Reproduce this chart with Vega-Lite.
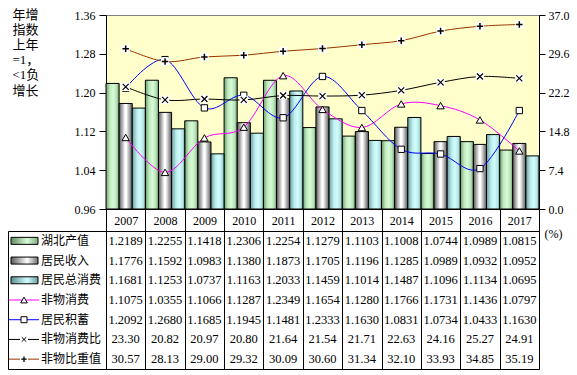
{
  "$schema": "https://vega.github.io/schema/vega-lite/v6.json",
  "padding": {"left": 7, "top": 7, "right": 5, "bottom": 4},
  "background": "white",
  "config": {
    "font": "Liberation Serif",
    "axis": {"labelFont": "Liberation Serif", "labelFontSize": 12, "labelColor": "black"}
  },
  "datasets": {
    "main": [
      {"year": "2007", "series": "湖北产值", "value": 1.2189},
      {"year": "2007", "series": "居民收入", "value": 1.1776},
      {"year": "2007", "series": "居民总消费", "value": 1.1681},
      {"year": "2007", "series": "非物消费", "value": 1.1075},
      {"year": "2007", "series": "居民积蓄", "value": 1.2092},
      {"year": "2007", "series": "非物消费比", "value": 23.30},
      {"year": "2007", "series": "非物比重值", "value": 30.57},
      {"year": "2008", "series": "湖北产值", "value": 1.2255},
      {"year": "2008", "series": "居民收入", "value": 1.1592},
      {"year": "2008", "series": "居民总消费", "value": 1.1253},
      {"year": "2008", "series": "非物消费", "value": 1.0355},
      {"year": "2008", "series": "居民积蓄", "value": 1.2680},
      {"year": "2008", "series": "非物消费比", "value": 20.82},
      {"year": "2008", "series": "非物比重值", "value": 28.13},
      {"year": "2009", "series": "湖北产值", "value": 1.1418},
      {"year": "2009", "series": "居民收入", "value": 1.0983},
      {"year": "2009", "series": "居民总消费", "value": 1.0737},
      {"year": "2009", "series": "非物消费", "value": 1.1066},
      {"year": "2009", "series": "居民积蓄", "value": 1.1685},
      {"year": "2009", "series": "非物消费比", "value": 20.97},
      {"year": "2009", "series": "非物比重值", "value": 29.00},
      {"year": "2010", "series": "湖北产值", "value": 1.2306},
      {"year": "2010", "series": "居民收入", "value": 1.1380},
      {"year": "2010", "series": "居民总消费", "value": 1.1163},
      {"year": "2010", "series": "非物消费", "value": 1.1287},
      {"year": "2010", "series": "居民积蓄", "value": 1.1945},
      {"year": "2010", "series": "非物消费比", "value": 20.80},
      {"year": "2010", "series": "非物比重值", "value": 29.32},
      {"year": "2011", "series": "湖北产值", "value": 1.2254},
      {"year": "2011", "series": "居民收入", "value": 1.1873},
      {"year": "2011", "series": "居民总消费", "value": 1.2033},
      {"year": "2011", "series": "非物消费", "value": 1.2349},
      {"year": "2011", "series": "居民积蓄", "value": 1.1481},
      {"year": "2011", "series": "非物消费比", "value": 21.64},
      {"year": "2011", "series": "非物比重值", "value": 30.09},
      {"year": "2012", "series": "湖北产值", "value": 1.1279},
      {"year": "2012", "series": "居民收入", "value": 1.1705},
      {"year": "2012", "series": "居民总消费", "value": 1.1459},
      {"year": "2012", "series": "非物消费", "value": 1.1654},
      {"year": "2012", "series": "居民积蓄", "value": 1.2333},
      {"year": "2012", "series": "非物消费比", "value": 21.54},
      {"year": "2012", "series": "非物比重值", "value": 30.60},
      {"year": "2013", "series": "湖北产值", "value": 1.1103},
      {"year": "2013", "series": "居民收入", "value": 1.1196},
      {"year": "2013", "series": "居民总消费", "value": 1.1014},
      {"year": "2013", "series": "非物消费", "value": 1.1280},
      {"year": "2013", "series": "居民积蓄", "value": 1.1630},
      {"year": "2013", "series": "非物消费比", "value": 21.71},
      {"year": "2013", "series": "非物比重值", "value": 31.34},
      {"year": "2014", "series": "湖北产值", "value": 1.1008},
      {"year": "2014", "series": "居民收入", "value": 1.1285},
      {"year": "2014", "series": "居民总消费", "value": 1.1487},
      {"year": "2014", "series": "非物消费", "value": 1.1766},
      {"year": "2014", "series": "居民积蓄", "value": 1.0831},
      {"year": "2014", "series": "非物消费比", "value": 22.63},
      {"year": "2014", "series": "非物比重值", "value": 32.10},
      {"year": "2015", "series": "湖北产值", "value": 1.0744},
      {"year": "2015", "series": "居民收入", "value": 1.0989},
      {"year": "2015", "series": "居民总消费", "value": 1.1096},
      {"year": "2015", "series": "非物消费", "value": 1.1731},
      {"year": "2015", "series": "居民积蓄", "value": 1.0734},
      {"year": "2015", "series": "非物消费比", "value": 24.16},
      {"year": "2015", "series": "非物比重值", "value": 33.93},
      {"year": "2016", "series": "湖北产值", "value": 1.0989},
      {"year": "2016", "series": "居民收入", "value": 1.0932},
      {"year": "2016", "series": "居民总消费", "value": 1.1134},
      {"year": "2016", "series": "非物消费", "value": 1.1436},
      {"year": "2016", "series": "居民积蓄", "value": 1.0433},
      {"year": "2016", "series": "非物消费比", "value": 25.27},
      {"year": "2016", "series": "非物比重值", "value": 34.85},
      {"year": "2017", "series": "湖北产值", "value": 1.0815},
      {"year": "2017", "series": "居民收入", "value": 1.0952},
      {"year": "2017", "series": "居民总消费", "value": 1.0695},
      {"year": "2017", "series": "非物消费", "value": 1.0797},
      {"year": "2017", "series": "居民积蓄", "value": 1.1630},
      {"year": "2017", "series": "非物消费比", "value": 24.91},
      {"year": "2017", "series": "非物比重值", "value": 35.19}
    ]
  },
  "columns": 2,
  "bounds": "flush",
  "spacing": {"row": 22, "column": 0},
  "concat": [
    {
      "width": 98,
      "height": 194,
      "data": {"values": [{}]},
      "mark": {"type": "point", "opacity": 0},
      "view": {"stroke": null}
    },
    {
      "width": 433,
      "height": 194,
      "data": {"name": "main"},
      "view": {"fill": "#FFFFCC", "stroke": "#808080"},
      "layer": [
        {
          "encoding": {
            "x": {
              "field": "year", "type": "nominal",
              "scale": {"type": "band", "paddingInner": 0, "paddingOuter": 0},
              "axis": {"title": null, "tickBand": "extent", "tickSize": 22, "tickColor": "black", "domainColor": "black", "labelPadding": -11, "labelBaseline": "middle", "labelAngle": 0, "labelFontSize": 12}
            },
            "y": {
              "field": "value", "type": "quantitative",
              "scale": {"domain": [0.96, 1.36], "nice": false, "zero": false},
              "axis": {
                "orient": "left", "values": [0.96, 1.04, 1.12, 1.2, 1.28, 1.36], "format": ".2f",
                "tickSize": 7, "tickColor": "black", "domainColor": "black", "labelPadding": 4, "grid": false,
                "title": ["年增", "指数", "上年", "=1，", "<1负", "增长"],
                "titleAngle": 0, "titleAlign": "left", "titleBaseline": "top", "titleX": -94, "titleY": -7,
                "titleFont": "Liberation Serif, Noto Sans CJK SC", "titleFontSize": 13, "titleFontWeight": "normal",
                "titleLineHeight": 15.2, "titleColor": "black"
              }
            }
          },
          "layer": [
            {
              "transform": [{"filter": "datum.series == '湖北产值'"}],
              "mark": {"type": "bar", "stroke": "black", "strokeWidth": 1,
                "fill": {"gradient": "linear", "x1": 0, "y1": 0, "x2": 1, "y2": 0,
                  "stops": [{"offset": 0, "color": "#6E9E6E"}, {"offset": 0.3, "color": "#C0ECC0"}, {"offset": 0.55, "color": "#D8FAD8"}, {"offset": 0.8, "color": "#B8E4B8"}, {"offset": 1, "color": "#6E9E6E"}]}},
              "encoding": {
                "xOffset": {"field": "series", "type": "nominal", "scale": {"domain": ["湖北产值", "居民收入", "居民总消费"], "paddingInner": 0, "paddingOuter": 0}},
                "y2": {"datum": 0.96}
              }
            },
            {
              "transform": [{"filter": "datum.series == '居民收入'"}],
              "mark": {"type": "bar", "stroke": "black", "strokeWidth": 1,
                "fill": {"gradient": "linear", "x1": 0, "y1": 0, "x2": 1, "y2": 0,
                  "stops": [{"offset": 0, "color": "#5A5A5A"}, {"offset": 0.45, "color": "#FFFFFF"}, {"offset": 0.55, "color": "#FFFFFF"}, {"offset": 1, "color": "#5A5A5A"}]}},
              "encoding": {
                "xOffset": {"field": "series", "type": "nominal", "scale": {"domain": ["湖北产值", "居民收入", "居民总消费"], "paddingInner": 0, "paddingOuter": 0}},
                "y2": {"datum": 0.96}
              }
            },
            {
              "transform": [{"filter": "datum.series == '居民总消费'"}],
              "mark": {"type": "bar", "stroke": "black", "strokeWidth": 1,
                "fill": {"gradient": "linear", "x1": 0, "y1": 0, "x2": 1, "y2": 0,
                  "stops": [{"offset": 0, "color": "#6AA0A0"}, {"offset": 0.35, "color": "#BDEDED"}, {"offset": 0.6, "color": "#D2FDFD"}, {"offset": 0.85, "color": "#B5E5E5"}, {"offset": 1, "color": "#6AA0A0"}]}},
              "encoding": {
                "xOffset": {"field": "series", "type": "nominal", "scale": {"domain": ["湖北产值", "居民收入", "居民总消费"], "paddingInner": 0, "paddingOuter": 0}},
                "y2": {"datum": 0.96}
              }
            },
            {
              "transform": [{"filter": "datum.series == '非物消费'"}],
              "mark": {"type": "line", "color": "#FF00FF", "strokeWidth": 1, "interpolate": "cardinal"}
            },
            {
              "transform": [{"filter": "datum.series == '非物消费'"}],
              "mark": {"type": "point", "shape": "triangle-up", "filled": true, "fill": "white", "stroke": "black", "strokeWidth": 1, "size": 55, "opacity": 1}
            },
            {
              "transform": [{"filter": "datum.series == '居民积蓄'"}],
              "mark": {"type": "line", "color": "#0000FF", "strokeWidth": 1, "interpolate": "cardinal"}
            },
            {
              "transform": [{"filter": "datum.series == '居民积蓄'"}],
              "mark": {"type": "point", "shape": "square", "filled": true, "fill": "white", "stroke": "black", "strokeWidth": 1, "size": 40, "opacity": 1}
            }
          ]
        },
        {
          "encoding": {
            "x": {
              "field": "year", "type": "nominal",
              "scale": {"type": "band", "paddingInner": 0, "paddingOuter": 0},
              "axis": {"title": null, "tickBand": "extent", "tickSize": 22, "tickColor": "black", "domainColor": "black", "labelPadding": -11, "labelBaseline": "middle", "labelAngle": 0, "labelFontSize": 12}
            },
            "y": {
              "field": "value", "type": "quantitative",
              "scale": {"domain": [0, 37], "nice": false, "zero": false},
              "axis": {
                "orient": "right", "values": [0, 7.4, 14.8, 22.2, 29.6, 37], "format": ".1f",
                "tickSize": 6, "tickColor": "black", "domainColor": "black", "labelPadding": 3, "grid": false,
                "title": "(%)", "titleAngle": 0, "titleAlign": "center", "titleBaseline": "middle", "titleX": 14, "titleY": 218,
                "titleFont": "Liberation Serif", "titleFontSize": 12, "titleFontWeight": "normal", "titleColor": "black"
              }
            }
          },
          "layer": [
            {
              "transform": [{"filter": "datum.series == '非物消费比'"}],
              "mark": {"type": "line", "color": "#000000", "strokeWidth": 1, "interpolate": "cardinal"}
            },
            {
              "transform": [{"filter": "datum.series == '非物消费比'"}],
              "mark": {"type": "point", "shape": "square", "filled": true, "fill": "white", "strokeWidth": 0, "size": 70, "opacity": 1}
            },
            {
              "transform": [{"filter": "datum.series == '非物消费比'"}],
              "mark": {"type": "point", "shape": "M-1,-1L1,1M-1,1L1,-1", "filled": false, "stroke": "black", "strokeWidth": 1.2, "size": 36, "opacity": 1}
            },
            {
              "transform": [{"filter": "datum.series == '非物比重值'"}],
              "mark": {"type": "line", "color": "#993300", "strokeWidth": 1, "interpolate": "cardinal"}
            },
            {
              "transform": [{"filter": "datum.series == '非物比重值'"}],
              "mark": {"type": "point", "shape": "square", "filled": true, "fill": "white", "strokeWidth": 0, "size": 70, "opacity": 1}
            },
            {
              "transform": [{"filter": "datum.series == '非物比重值'"}],
              "mark": {"type": "point", "shape": "M-1,0L1,0M0,-1L0,1", "filled": false, "stroke": "black", "strokeWidth": 1.5, "size": 42, "opacity": 1}
            }
          ]
        }
      ],
      "resolve": {"scale": {"y": "independent"}}
    },
    {
      "width": 98,
      "height": 138,
      "data": {"name": "main"},
      "transform": [{"filter": "datum.year == '2007'"}],
      "view": {"stroke": "black"},
      "encoding": {
        "y": {"field": "series", "type": "nominal",
          "scale": {"type": "band", "domain": ["湖北产值", "居民收入", "居民总消费", "非物消费", "居民积蓄", "非物消费比", "非物比重值"], "paddingInner": 0, "paddingOuter": 0},
          "axis": null}
      },
      "layer": [
        {
          "transform": [{"filter": "datum.series == '湖北产值'"}],
          "mark": {"type": "bar", "height": 7, "stroke": "black", "strokeWidth": 1,
            "fill": {"gradient": "linear", "x1": 0, "y1": 0, "x2": 1, "y2": 0,
              "stops": [{"offset": 0, "color": "#5E8E5E"}, {"offset": 0.6, "color": "#D8FAD8"}, {"offset": 1, "color": "#7FAF7F"}]}},
          "encoding": {
            "x": {"datum": 3, "type": "quantitative", "scale": {"domain": [0, 98], "nice": false, "zero": false}, "axis": null},
            "x2": {"datum": 30}
          }
        },
        {
          "transform": [{"filter": "datum.series == '居民收入'"}],
          "mark": {"type": "bar", "height": 7, "stroke": "black", "strokeWidth": 1,
            "fill": {"gradient": "linear", "x1": 0, "y1": 0, "x2": 1, "y2": 0,
              "stops": [{"offset": 0, "color": "#5A5A5A"}, {"offset": 0.6, "color": "#FFFFFF"}, {"offset": 1, "color": "#707070"}]}},
          "encoding": {
            "x": {"datum": 3, "type": "quantitative", "scale": {"domain": [0, 98], "nice": false, "zero": false}, "axis": null},
            "x2": {"datum": 30}
          }
        },
        {
          "transform": [{"filter": "datum.series == '居民总消费'"}],
          "mark": {"type": "bar", "height": 7, "stroke": "black", "strokeWidth": 1,
            "fill": {"gradient": "linear", "x1": 0, "y1": 0, "x2": 1, "y2": 0,
              "stops": [{"offset": 0, "color": "#5A9090"}, {"offset": 0.6, "color": "#D2FDFD"}, {"offset": 1, "color": "#6AA0A0"}]}},
          "encoding": {
            "x": {"datum": 3, "type": "quantitative", "scale": {"domain": [0, 98], "nice": false, "zero": false}, "axis": null},
            "x2": {"datum": 30}
          }
        },
        {
          "transform": [{"filter": "indexof(['非物消费', '居民积蓄', '非物消费比', '非物比重值'], datum.series) >= 0"}],
          "mark": {"type": "rule", "strokeWidth": 1},
          "encoding": {
            "x": {"datum": 1, "type": "quantitative", "scale": {"domain": [0, 98], "nice": false, "zero": false}, "axis": null},
            "x2": {"datum": 31},
            "color": {"field": "series", "type": "nominal",
              "scale": {"domain": ["非物消费", "居民积蓄", "非物消费比", "非物比重值"], "range": ["#FF00FF", "#0000FF", "#000000", "#993300"]},
              "legend": null}
          }
        },
        {
          "transform": [{"filter": "datum.series == '非物消费'"}],
          "mark": {"type": "point", "shape": "triangle-up", "filled": true, "fill": "white", "stroke": "black", "strokeWidth": 1, "size": 45, "opacity": 1},
          "encoding": {"x": {"datum": 16, "type": "quantitative", "scale": {"domain": [0, 98], "nice": false, "zero": false}, "axis": null}}
        },
        {
          "transform": [{"filter": "datum.series == '居民积蓄'"}],
          "mark": {"type": "point", "shape": "square", "filled": true, "fill": "white", "stroke": "black", "strokeWidth": 1, "size": 36, "opacity": 1},
          "encoding": {"x": {"datum": 16, "type": "quantitative", "scale": {"domain": [0, 98], "nice": false, "zero": false}, "axis": null}}
        },
        {
          "transform": [{"filter": "datum.series == '非物消费比' || datum.series == '非物比重值'"}],
          "mark": {"type": "point", "shape": "square", "filled": true, "fill": "white", "strokeWidth": 0, "size": 64, "opacity": 1},
          "encoding": {"x": {"datum": 16, "type": "quantitative", "scale": {"domain": [0, 98], "nice": false, "zero": false}, "axis": null}}
        },
        {
          "transform": [{"filter": "datum.series == '非物消费比'"}],
          "mark": {"type": "point", "shape": "M-1,-1L1,1M-1,1L1,-1", "filled": false, "stroke": "black", "strokeWidth": 1, "size": 20, "opacity": 1},
          "encoding": {"x": {"datum": 16, "type": "quantitative", "scale": {"domain": [0, 98], "nice": false, "zero": false}, "axis": null}}
        },
        {
          "transform": [{"filter": "datum.series == '非物比重值'"}],
          "mark": {"type": "point", "shape": "M-1,0L1,0M0,-1L0,1", "filled": false, "stroke": "black", "strokeWidth": 1.3, "size": 30, "opacity": 1},
          "encoding": {"x": {"datum": 16, "type": "quantitative", "scale": {"domain": [0, 98], "nice": false, "zero": false}, "axis": null}}
        },
        {
          "mark": {"type": "text", "align": "left", "baseline": "middle", "font": "Noto Sans CJK SC", "fontSize": 12, "color": "black"},
          "encoding": {
            "x": {"datum": 33, "type": "quantitative", "scale": {"domain": [0, 98], "nice": false, "zero": false}, "axis": null},
            "text": {"field": "series", "type": "nominal"}
          }
        }
      ]
    },
    {
      "width": 433,
      "height": 138,
      "data": {"name": "main"},
      "view": {"stroke": "black"},
      "encoding": {
        "x": {"field": "year", "type": "nominal",
          "scale": {"type": "band", "paddingInner": 0, "paddingOuter": 0},
          "axis": {"title": null, "labels": false, "ticks": false, "domain": false, "grid": true, "tickBand": "extent", "gridColor": "black", "gridOpacity": 1, "gridWidth": 1}},
        "y": {"field": "series", "type": "nominal",
          "scale": {"type": "band", "domain": ["湖北产值", "居民收入", "居民总消费", "非物消费", "居民积蓄", "非物消费比", "非物比重值"], "paddingInner": 0, "paddingOuter": 0},
          "axis": null}
      },
      "layer": [
        {
          "transform": [{"filter": "datum.value < 5"}],
          "mark": {"type": "text", "font": "Liberation Serif", "fontSize": 12.5, "baseline": "middle", "align": "center", "color": "black"},
          "encoding": {"text": {"field": "value", "type": "quantitative", "format": ".4f"}}
        },
        {
          "transform": [{"filter": "datum.value >= 5"}],
          "mark": {"type": "text", "font": "Liberation Serif", "fontSize": 12.5, "baseline": "middle", "align": "center", "color": "black"},
          "encoding": {"text": {"field": "value", "type": "quantitative", "format": ".2f"}}
        }
      ]
    }
  ]
}
